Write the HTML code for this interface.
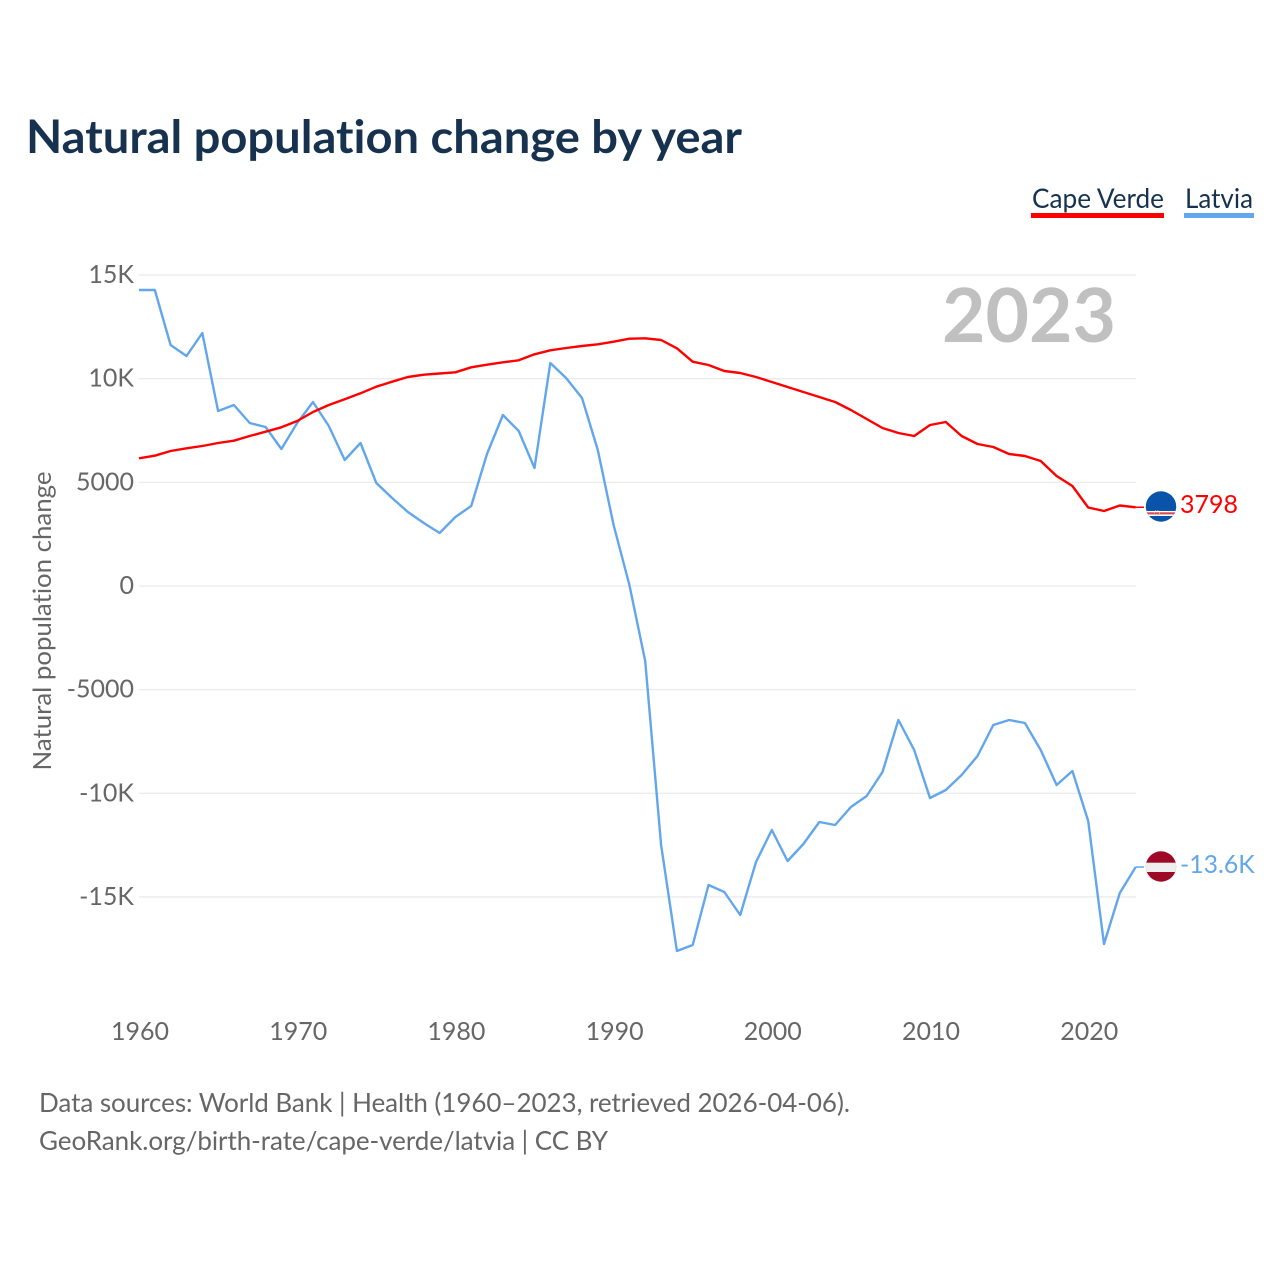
<!DOCTYPE html>
<html>
<head>
<meta charset="utf-8">
<title>Natural population change by year</title>
<style>
html,body{margin:0;padding:0;background:#fff;}
svg{display:block;font-family:"Lato","Carlito","Liberation Sans",sans-serif;font-variant-ligatures:none;}
</style>
</head>
<body>
<svg id="chart" width="1280" height="1280" viewBox="0 0 1280 1280" xmlns="http://www.w3.org/2000/svg">
  <defs>
    <clipPath id="flag-clip-cv"><circle cx="1161" cy="506.5" r="15.2"/></clipPath>
    <clipPath id="flag-clip-lv"><circle cx="1161" cy="866.5" r="15.2"/></clipPath>
  </defs>
  <rect x="0" y="0" width="1280" height="1280" fill="#ffffff"/>
  <text x="26" y="153" font-size="46" font-weight="700" fill="#17324f" textLength="716" lengthAdjust="spacingAndGlyphs">Natural population change by year</text>

  <text x="1032" y="208" font-size="27" fill="#17324f" textLength="132" lengthAdjust="spacingAndGlyphs">Cape Verde</text>
  <rect x="1031" y="213" width="133" height="5" fill="#ff0000"/>
  <text x="1185" y="208" font-size="27" fill="#17324f" textLength="68" lengthAdjust="spacingAndGlyphs">Latvia</text>
  <rect x="1184" y="213" width="70" height="5" fill="#62a6ec"/>

  <g id="grid"></g>
  <g id="y-ticks"></g>
  <g id="x-ticks"></g>

  <text transform="translate(51,621) rotate(-90)" text-anchor="middle" font-size="25" fill="#666666" textLength="299" lengthAdjust="spacingAndGlyphs">Natural population change</text>

  <text x="1116" y="342" text-anchor="end" font-size="75" font-weight="700" fill="#c0c0c0">2023</text>

  <g id="series"></g>

  <g clip-path="url(#flag-clip-cv)">
    <rect x="1145" y="491" width="32" height="32" fill="#0a53ab"/>
    <rect x="1145" y="511" width="32" height="1.4" fill="#ffffff"/>
    <rect x="1145" y="512.4" width="32" height="2" fill="#e2474b"/>
    <rect x="1145" y="514.4" width="32" height="1.6" fill="#ffffff"/>
    <circle cx="1157" cy="513" r="2.6" fill="none" stroke="#d8c98a" stroke-width="0.8" stroke-dasharray="1 1.5"/>
  </g>
  <g clip-path="url(#flag-clip-lv)">
    <rect x="1145" y="851" width="32" height="32" fill="#9e0a26"/>
    <rect x="1145" y="862.7" width="32" height="9.3" fill="#efefef"/>
  </g>

  <text x="1180" y="513" font-size="25" fill="#ff0000">3798</text>
  <text x="1180" y="873" font-size="24.8" fill="#62a6ec">-13.6K</text>

  <text x="39" y="1112" font-size="26" fill="#666666" textLength="811" lengthAdjust="spacing">Data sources: World Bank | Health (1960–2023, retrieved 2026-04-06).</text>
  <text x="39" y="1150" font-size="26" fill="#666666" textLength="569" lengthAdjust="spacing">GeoRank.org/birth-rate/cape-verde/latvia | CC BY</text>
</svg>
<script>
var startYear = 1960;
var capeVerde = [6160,6286,6512,6642,6754,6898,7009,7236,7443,7656,7960,8394,8731,9006,9296,9614,9855,10082,10193,10251,10309,10550,10677,10790,10888,11178,11370,11481,11577,11659,11785,11930,11949,11867,11466,10820,10661,10371,10275,10082,9841,9600,9358,9117,8876,8490,8056,7622,7381,7236,7766,7911,7236,6850,6705,6368,6271,6030,5306,4824,3787,3618,3883,3798];
var latvia = [14279,14279,11626,11095,12205,8442,8731,7863,7670,6609,7863,8876,7718,6078,6898,4969,4245,3570,3039,2557,3329,3859,6368,8249,7477,5692,10757,10034,9069,6561,2943,48,-3618,-12494,-17607,-17318,-14424,-14761,-15871,-13314,-11770,-13266,-12446,-11384,-11529,-10661,-10130,-8973,-6464,-7911,-10227,-9841,-9117,-8201,-6705,-6464,-6609,-7911,-9600,-8924,-11336,-17270,-14810,-13555];
var yTickValues = [15000,10000,5000,0,-5000,-10000,-15000];
var yTickLabels = ['15K','10K','5000','0','-5000','-10K','-15K'];
var xTickYears = [1960,1970,1980,1990,2000,2010,2020];

var NS = 'http://www.w3.org/2000/svg';
function xScale(year) { return 139 + (year - 1960) * 15.82; }
function yScale(value) { return 586 - value * 0.02073; }
function make(tag, parentId) {
  var el = document.createElementNS(NS, tag);
  document.getElementById(parentId).appendChild(el);
  return el;
}

yTickValues.forEach(function (v, i) {
  var line = make('line', 'grid');
  
  
  line.setAttribute('x1', 139);
  line.setAttribute('x2', 1136);
  line.setAttribute('y1', yScale(v));
  line.setAttribute('y2', yScale(v));
  line.setAttribute('stroke', '#ebebeb');
  line.setAttribute('stroke-width', '1.3');

  var t = make('text', 'y-ticks');
  
  
  t.setAttribute('x', 134);
  t.setAttribute('y', yScale(v) + 8);
  t.setAttribute('text-anchor', 'end');
  t.setAttribute('font-size', '25');
  t.setAttribute('fill', '#666666');
  t.textContent = yTickLabels[i];
});

xTickYears.forEach(function (yr) {
  var t = make('text', 'x-ticks');
  
  
  t.setAttribute('x', xScale(yr) + 1);
  t.setAttribute('y', 1040);
  t.setAttribute('text-anchor', 'middle');
  t.setAttribute('font-size', '25');
  t.setAttribute('fill', '#666666');
  t.textContent = String(yr);
});

function linePoints(values) {
  var pts = values.map(function (v, i) {
    return xScale(startYear + i).toFixed(1) + ',' + yScale(v).toFixed(1);
  });
  return pts.join(' ');
}

function addSeries(values, color, name) {
  var lastY = yScale(values[values.length - 1]);
  var tail = make('line', 'series');
  
  
  tail.setAttribute('x1', xScale(startYear + values.length - 1));
  tail.setAttribute('x2', 1144);
  tail.setAttribute('y1', lastY);
  tail.setAttribute('y2', lastY);
  tail.setAttribute('stroke', color);
  tail.setAttribute('stroke-width', '1.5');

  var path = make('polyline', 'series');
  
  
  path.setAttribute('points', linePoints(values));
  path.setAttribute('fill', 'none');
  path.setAttribute('stroke', color);
  path.setAttribute('stroke-width', '2.4');
  path.setAttribute('stroke-linejoin', 'round');
}

addSeries(latvia, '#62a6ec', 'series-line-latvia');
addSeries(capeVerde, '#ff0000', 'series-line-cape-verde');
</script>
</body>
</html>
